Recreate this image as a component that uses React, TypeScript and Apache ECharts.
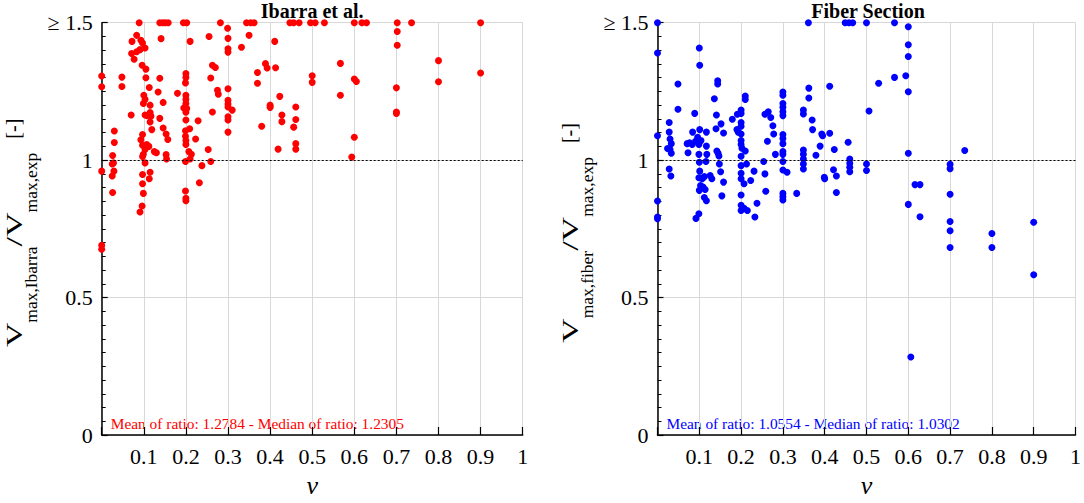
import React, { useEffect, useRef } from "react";
import * as echarts from "echarts";

const FONT = "'Liberation Serif', 'Times New Roman', serif";

// Tick labels
const yTickValues = [0, 0.5, 1, 1.5];
const yTickLabels = ["0", "0.5", "1", "≥ 1.5"];

// Ibarra et al. : [axial load ratio nu, V_max,Ibarra / V_max,exp]
const ibarraPoints: number[][] = [
  [0, 1.306], [0, 1.267], [0, 0.96], [0, 0.69], [0, 0.676],
  [0.03, 1.106], [0.03, 1.064], [0.026, 1.017], [0.028, 0.99], [0.025, 0.986], [0.029, 0.96], [0.025, 0.942], [0.026, 0.882],
  [0.048, 1.302], [0.048, 1.268], [0.07, 1.164],
  [0.072, 1.432], [0.083, 1.454], [0.089, 1.5], [0.093, 1.436], [0.097, 1.426], [0.103, 1.408], [0.091, 1.402], [0.083, 1.394],
  [0.071, 1.388], [0.077, 1.367], [0.096, 1.345], [0.105, 1.331], [0.105, 1.3], [0.113, 1.264], [0.1, 1.236], [0.103, 1.221],
  [0.099, 1.206], [0.115, 1.2], [0.103, 1.164], [0.115, 1.173], [0.108, 1.162], [0.117, 1.16], [0.115, 1.139], [0.119, 1.111],
  [0.097, 1.093], [0.093, 1.074], [0.097, 1.054], [0.107, 1.057], [0.112, 1.05], [0.103, 1.039], [0.099, 1.021], [0.097, 1.013],
  [0.125, 1.031], [0.13, 1.027], [0.103, 0.99], [0.097, 0.948], [0.115, 0.956], [0.113, 0.932], [0.097, 0.914], [0.099, 0.879],
  [0.096, 0.833], [0.091, 0.811],
  [0.138, 1.5], [0.145, 1.5], [0.151, 1.5], [0.158, 1.5], [0.141, 1.442], [0.138, 1.298], [0.134, 1.248], [0.146, 1.21],
  [0.138, 1.152], [0.146, 1.117], [0.153, 1.095], [0.157, 1.075], [0.153, 1.02], [0.154, 1.004],
  [0.18, 1.243],
  [0.194, 1.5], [0.202, 1.5], [0.2, 1.315], [0.2, 1.301], [0.199, 1.281], [0.2, 1.236], [0.2, 1.221], [0.2, 1.206],
  [0.195, 1.19], [0.202, 1.188], [0.2, 1.174], [0.2, 1.146], [0.199, 1.107], [0.209, 1.114], [0.199, 1.087], [0.2, 1.071],
  [0.2, 1.057], [0.207, 1.031], [0.213, 1.021], [0.21, 1.004], [0.199, 0.995], [0.199, 0.888], [0.2, 0.861], [0.2, 0.852],
  [0.21, 1.432], [0.223, 1.077], [0.229, 1.143], [0.238, 0.98], [0.232, 0.918], [0.253, 1.039], [0.259, 0.995],
  [0.255, 1.45], [0.259, 1.299], [0.263, 1.345], [0.27, 1.337], [0.263, 1.175], [0.275, 1.254], [0.277, 1.24],
  [0.282, 1.5],
  [0.299, 1.48], [0.3, 1.443], [0.3, 1.405], [0.3, 1.393], [0.3, 1.26], [0.3, 1.218], [0.3, 1.204], [0.3, 1.193],
  [0.31, 1.182], [0.3, 1.158], [0.3, 1.146], [0.3, 1.102],
  [0.332, 1.411], [0.344, 1.5], [0.354, 1.5], [0.362, 1.5], [0.35, 1.454], [0.37, 1.319], [0.37, 1.28], [0.38, 1.123],
  [0.389, 1.351], [0.393, 1.335], [0.4, 1.2], [0.4, 1.192], [0.411, 1.432], [0.413, 1.336], [0.423, 1.232], [0.428, 1.164],
  [0.428, 1.14], [0.419, 1.04], [0.456, 1.12], [0.461, 1.193], [0.461, 1.148], [0.461, 1.06], [0.461, 1.04],
  [0.447, 1.5], [0.456, 1.5], [0.469, 1.5], [0.5, 1.307], [0.5, 1.283], [0.496, 1.5], [0.507, 1.5], [0.529, 1.5],
  [0.567, 1.352], [0.567, 1.236], [0.6, 1.295], [0.605, 1.286], [0.6, 1.083], [0.594, 1.011],
  [0.6, 1.5], [0.618, 1.5], [0.629, 1.5], [0.702, 1.5], [0.736, 1.5], [0.9, 1.5],
  [0.702, 1.468], [0.702, 1.418], [0.7, 1.263], [0.7, 1.175], [0.7, 1.17], [0.8, 1.362], [0.8, 1.285], [0.9, 1.317],
];

// Fiber Section : [nu, V_max,fiber / V_max,exp]
const fiberPoints: number[][] = [
  [0, 1.5], [0, 1.39], [0, 1.089], [0, 0.851], [0, 0.793], [0, 0.787],
  [0.049, 1.277], [0.049, 1.185], [0.028, 1.137], [0.028, 1.102], [0.03, 1.077], [0.033, 1.06], [0.024, 1.042], [0.03, 1.039],
  [0.033, 1.025], [0.028, 0.968], [0.032, 0.942],
  [0.1, 1.408], [0.101, 1.345], [0.089, 1.17], [0.071, 1.06], [0.077, 1.063], [0.083, 1.057], [0.073, 1.027], [0.084, 1.102],
  [0.091, 1.069], [0.096, 1.083], [0.101, 1.111], [0.099, 1.057], [0.104, 1.071], [0.099, 1.021], [0.117, 1.102], [0.117, 1.051],
  [0.118, 1.021], [0.1, 0.992], [0.116, 0.995], [0.101, 0.96], [0.099, 0.936], [0.107, 0.932], [0.112, 0.94], [0.103, 0.908],
  [0.109, 0.902], [0.1, 0.89], [0.114, 0.893], [0.112, 0.864], [0.117, 0.852], [0.099, 0.805], [0.092, 0.788], [0.126, 0.944],
  [0.13, 0.932],
  [0.144, 1.289], [0.144, 1.277], [0.136, 1.223], [0.141, 1.164], [0.152, 1.132], [0.14, 1.114], [0.158, 1.099], [0.142, 1.033],
  [0.145, 1.025], [0.147, 1.015], [0.148, 0.986], [0.151, 0.958], [0.158, 0.92], [0.154, 0.87],
  [0.179, 1.149], [0.191, 1.167], [0.2, 1.182], [0.21, 1.233], [0.21, 1.221], [0.2, 1.17], [0.2, 1.137], [0.2, 1.123],
  [0.19, 1.111], [0.193, 1.102], [0.2, 1.095], [0.2, 1.071], [0.2, 1.057], [0.202, 1.043], [0.21, 1.033], [0.2, 1.014],
  [0.213, 0.986], [0.2, 0.98], [0.2, 0.952], [0.2, 0.932], [0.207, 0.914], [0.2, 0.873], [0.2, 0.836], [0.2, 0.817],
  [0.207, 0.825], [0.215, 0.817], [0.223, 0.926], [0.231, 0.96], [0.238, 0.843], [0.233, 0.793],
  [0.254, 0.995], [0.257, 0.95], [0.259, 0.887], [0.257, 1.167], [0.265, 1.176], [0.271, 1.155], [0.276, 1.125], [0.278, 1.095],
  [0.263, 1.069], [0.282, 1.021],
  [0.3, 1.248], [0.3, 1.236], [0.3, 1.206], [0.3, 1.192], [0.3, 1.176], [0.3, 1.162], [0.3, 1.093], [0.3, 1.079],
  [0.3, 1.06], [0.3, 1.031], [0.3, 1.021], [0.3, 0.995], [0.3, 0.964], [0.31, 0.956], [0.3, 0.879], [0.3, 0.867],
  [0.3, 0.855], [0.333, 0.879],
  [0.361, 1.5], [0.362, 1.262], [0.362, 1.226], [0.349, 1.182], [0.349, 1.168], [0.37, 1.146], [0.371, 1.111], [0.349, 1.037],
  [0.349, 1.021], [0.349, 1.004], [0.349, 0.986], [0.349, 0.968], [0.379, 1.018],
  [0.393, 1.095], [0.395, 1.089], [0.389, 1.051], [0.412, 1.269], [0.412, 1.098], [0.423, 1.039], [0.421, 0.965], [0.428, 0.942],
  [0.399, 0.938], [0.4, 0.932], [0.428, 0.882],
  [0.449, 1.5], [0.458, 1.5], [0.467, 1.5], [0.456, 1.065], [0.46, 1.004], [0.46, 0.989], [0.46, 0.974], [0.46, 0.958],
  [0.5, 1.5], [0.506, 1.179], [0.5, 0.986], [0.5, 0.962], [0.529, 1.28], [0.567, 1.301], [0.567, 1.5],
  [0.6, 1.485], [0.6, 1.42], [0.6, 1.377], [0.594, 1.307], [0.6, 1.249], [0.6, 1.025], [0.735, 1.035], [0.7, 0.985],
  [0.7, 0.969], [0.616, 0.911], [0.628, 0.911], [0.7, 0.876], [0.6, 0.839], [0.628, 0.794], [0.7, 0.777], [0.7, 0.743],
  [0.7, 0.682], [0.8, 0.733], [0.8, 0.682], [0.9, 0.774], [0.9, 0.583], [0.606, 0.284],
];

const panelTitles = ["Ibarra et al.", "Fiber Section"];
const panelNotes = [
  "Mean of ratio: 1.2784 - Median of ratio: 1.2305",
  "Mean of ratio: 1.0554 - Median of ratio: 1.0302",
];
const ySubscripts = ["max,Ibarra", "max,fiber"];
const colors = ["#ff0000", "#0000ff"];

const GRID_LEFT = [101.7, 657.5];
const GRID_TOP = 22.7;
const GRID_W = 421;
const GRID_H = 420;

function measure(text: string, size: number): number {
  const c = document.createElement("canvas").getContext("2d");
  if (!c) return text.length * size * 0.5;
  c.font = `${size}px 'Liberation Serif'`;
  return c.measureText(text).width;
}

// Rotated y-axis title "V_{sub}/V_{max,exp} [-]" built from pieces
function yNameGroup(cx: number, cy: number, sub: string) {
  const pieces = [
    { t: "V", size: 34, dy: 0, sy: 0.7, gap: 0 },
    { t: sub, size: 17.5, dy: 17, sy: 1, gap: 0 },
    { t: "/V", size: 34, dy: 0, sy: 0.7, gap: 0 },
    { t: "max,exp", size: 17.5, dy: 17, sy: 1, gap: 0 },
    { t: "[-]", size: 20, dy: -1.5, sy: 1, gap: 14 },
  ];
  const widths = pieces.map((p) => measure(p.t, p.size));
  const total = widths.reduce((a, b) => a + b, 0) + pieces.reduce((a, p) => a + p.gap, 0);
  let x = -total / 2;
  const children = pieces.map((p, k) => {
    x += p.gap;
    const el = {
      type: "text",
      x,
      y: p.dy,
      scaleY: p.sy,
      style: {
        text: p.t,
        fontFamily: FONT,
        fontSize: p.size,
        fill: "#000",
        align: "left",
        verticalAlign: "middle",
      },
    };
    x += widths[k];
    return el;
  });
  return { type: "group", x: cx, y: cy, rotation: Math.PI / 2, children };
}

export default function App() {
  const ref = useRef<HTMLDivElement>(null);

  useEffect(() => {
    if (!ref.current) return;
    const chart = echarts.init(ref.current, null, { renderer: "svg" });

    const xAxis = [0, 1].map((i) => ({
      type: "value",
      gridIndex: i,
      min: 0,
      max: 1,
      interval: 0.1,
      name: "ν",
      nameLocation: "middle",
      nameGap: 37,
      nameTextStyle: { fontFamily: FONT, fontSize: 26, fontStyle: "italic", color: "#000" },
      axisLine: { show: true, onZero: false, lineStyle: { color: "#000", width: 1.5 } },
      axisTick: { show: true, inside: true, length: 8, lineStyle: { color: "#000", width: 1.2 } },
      axisLabel: {
        margin: 10,
        fontFamily: FONT,
        fontSize: 22,
        color: "#000",
        formatter: (v: number) => (v === 0 ? "" : String(Math.round(v * 10) / 10)),
      },
      splitLine: { show: true, lineStyle: { color: "#d8d8d8", width: 1 } },
    }));

    const yAxis = [0, 1].map((i) => ({
      type: "value",
      gridIndex: i,
      min: 0,
      max: 1.5,
      interval: 0.5,
      axisLine: { show: true, onZero: false, lineStyle: { color: "#000", width: 1.5 } },
      axisTick: { show: true, inside: true, length: 6, lineStyle: { color: "#000", width: 1.2 } },
      minorTick: { show: true, splitNumber: 10, length: 4, lineStyle: { color: "#000", width: 1 } },
      axisLabel: {
        margin: 9,
        fontFamily: FONT,
        fontSize: 22,
        color: "#000",
        formatter: (v: number) => {
          const k = yTickValues.findIndex((t) => Math.abs(t - v) < 1e-9);
          return k >= 0 ? yTickLabels[k] : "";
        },
      },
      splitLine: { show: true, lineStyle: { color: "#d8d8d8", width: 1 } },
    }));

    const series = [ibarraPoints, fiberPoints].map((pts, i) => ({
      type: "scatter",
      xAxisIndex: i,
      yAxisIndex: i,
      data: pts,
      symbol: "circle",
      symbolSize: 7,
      clip: false,
      itemStyle: { color: colors[i], opacity: 1 },
      markLine: {
        silent: true,
        symbol: ["none", "none"],
        label: { show: false },
        lineStyle: { color: "#000", width: 1, type: [2, 2] },
        data: [{ yAxis: 1 }],
      },
    }));

    const graphic: any[] = [];
    [0, 1].forEach((i) => {
      const cx = GRID_LEFT[i] + GRID_W / 2;
      graphic.push({
        type: "text",
        x: cx,
        y: 11,
        style: {
          text: panelTitles[i],
          fontFamily: FONT,
          fontSize: 20,
          fontWeight: "bold",
          fill: "#000",
          align: "center",
          verticalAlign: "middle",
        },
      });
      graphic.push({
        type: "text",
        x: GRID_LEFT[i] + 9,
        y: 423.5,
        style: {
          text: panelNotes[i],
          fontFamily: FONT,
          fontSize: 15.4,
          fill: colors[i],
          align: "left",
          verticalAlign: "middle",
        },
      });
      graphic.push(yNameGroup(GRID_LEFT[i] - 87.5, 233, ySubscripts[i]));
    });

    chart.setOption({
      animation: false,
      backgroundColor: "#fff",
      grid: [0, 1].map((i) => ({
        left: GRID_LEFT[i],
        top: GRID_TOP,
        width: GRID_W,
        height: GRID_H,
        containLabel: false,
      })),
      xAxis,
      yAxis,
      series,
      graphic,
    });

    return () => chart.dispose();
  }, []);

  return (
    <div
      ref={ref}
      style={{ position: "fixed", left: 0, top: 0, width: 1084, height: 503, background: "#fff" }}
    />
  );
}
